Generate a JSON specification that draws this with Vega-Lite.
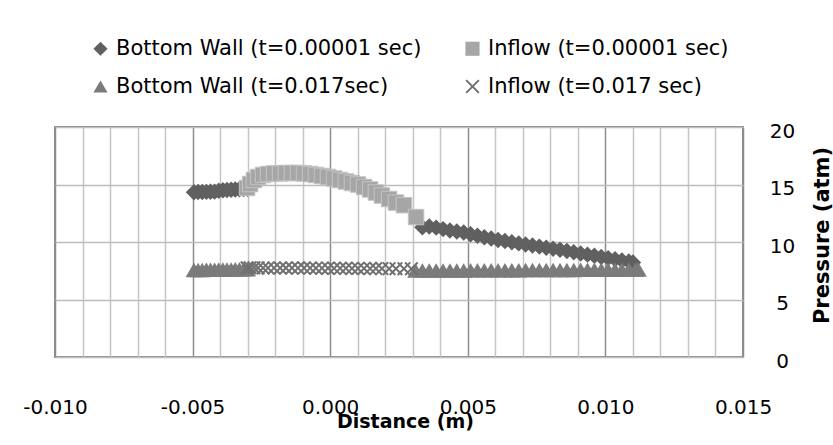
{
  "$schema": "https://vega.github.io/schema/vega-lite/v6.json",
  "width": 688,
  "height": 230,
  "autosize": {"type": "none"},
  "padding": {"left": 55, "top": 127, "right": 90, "bottom": 88},
  "background": "white",
  "config": {"view": {"stroke": "#8c8c8c", "strokeWidth": 2}, "font": "DejaVu Sans"},
  "data": {"values": [
    {"series": "Bottom Wall (t=0.00001 sec)", "x": -0.00495, "y": 14.33},
    {"series": "Bottom Wall (t=0.00001 sec)", "x": -0.0048, "y": 14.34},
    {"series": "Bottom Wall (t=0.00001 sec)", "x": -0.00465, "y": 14.35},
    {"series": "Bottom Wall (t=0.00001 sec)", "x": -0.0045, "y": 14.36},
    {"series": "Bottom Wall (t=0.00001 sec)", "x": -0.00435, "y": 14.37},
    {"series": "Bottom Wall (t=0.00001 sec)", "x": -0.0042, "y": 14.38},
    {"series": "Bottom Wall (t=0.00001 sec)", "x": -0.00405, "y": 14.45},
    {"series": "Bottom Wall (t=0.00001 sec)", "x": -0.0039, "y": 14.5},
    {"series": "Bottom Wall (t=0.00001 sec)", "x": -0.00375, "y": 14.52},
    {"series": "Bottom Wall (t=0.00001 sec)", "x": -0.0036, "y": 14.54},
    {"series": "Bottom Wall (t=0.00001 sec)", "x": -0.00345, "y": 14.56},
    {"series": "Bottom Wall (t=0.00001 sec)", "x": -0.0033, "y": 14.58},
    {"series": "Bottom Wall (t=0.00001 sec)", "x": -0.00315, "y": 14.6},
    {"series": "Bottom Wall (t=0.00001 sec)", "x": -0.003, "y": 14.62},
    {"series": "Bottom Wall (t=0.00001 sec)", "x": 0.00335, "y": 11.28},
    {"series": "Bottom Wall (t=0.00001 sec)", "x": 0.0036, "y": 11.35},
    {"series": "Bottom Wall (t=0.00001 sec)", "x": 0.00385, "y": 11.25},
    {"series": "Bottom Wall (t=0.00001 sec)", "x": 0.0041, "y": 11.12},
    {"series": "Bottom Wall (t=0.00001 sec)", "x": 0.00435, "y": 11.0},
    {"series": "Bottom Wall (t=0.00001 sec)", "x": 0.0046, "y": 10.92},
    {"series": "Bottom Wall (t=0.00001 sec)", "x": 0.00485, "y": 10.82},
    {"series": "Bottom Wall (t=0.00001 sec)", "x": 0.0051, "y": 10.68},
    {"series": "Bottom Wall (t=0.00001 sec)", "x": 0.00535, "y": 10.55},
    {"series": "Bottom Wall (t=0.00001 sec)", "x": 0.0056, "y": 10.42},
    {"series": "Bottom Wall (t=0.00001 sec)", "x": 0.00585, "y": 10.3},
    {"series": "Bottom Wall (t=0.00001 sec)", "x": 0.0061, "y": 10.18},
    {"series": "Bottom Wall (t=0.00001 sec)", "x": 0.00635, "y": 10.08},
    {"series": "Bottom Wall (t=0.00001 sec)", "x": 0.0066, "y": 9.98},
    {"series": "Bottom Wall (t=0.00001 sec)", "x": 0.00685, "y": 9.88},
    {"series": "Bottom Wall (t=0.00001 sec)", "x": 0.0071, "y": 9.78},
    {"series": "Bottom Wall (t=0.00001 sec)", "x": 0.00735, "y": 9.69},
    {"series": "Bottom Wall (t=0.00001 sec)", "x": 0.0076, "y": 9.6},
    {"series": "Bottom Wall (t=0.00001 sec)", "x": 0.00785, "y": 9.5},
    {"series": "Bottom Wall (t=0.00001 sec)", "x": 0.0081, "y": 9.42},
    {"series": "Bottom Wall (t=0.00001 sec)", "x": 0.00835, "y": 9.32},
    {"series": "Bottom Wall (t=0.00001 sec)", "x": 0.0086, "y": 9.22},
    {"series": "Bottom Wall (t=0.00001 sec)", "x": 0.00885, "y": 9.11},
    {"series": "Bottom Wall (t=0.00001 sec)", "x": 0.0091, "y": 9.0},
    {"series": "Bottom Wall (t=0.00001 sec)", "x": 0.00935, "y": 8.9},
    {"series": "Bottom Wall (t=0.00001 sec)", "x": 0.0096, "y": 8.8},
    {"series": "Bottom Wall (t=0.00001 sec)", "x": 0.00985, "y": 8.7},
    {"series": "Bottom Wall (t=0.00001 sec)", "x": 0.0101, "y": 8.6},
    {"series": "Bottom Wall (t=0.00001 sec)", "x": 0.01035, "y": 8.5},
    {"series": "Bottom Wall (t=0.00001 sec)", "x": 0.0106, "y": 8.4},
    {"series": "Bottom Wall (t=0.00001 sec)", "x": 0.01085, "y": 8.3},
    {"series": "Bottom Wall (t=0.00001 sec)", "x": 0.011, "y": 8.22},
    {"series": "Inflow (t=0.00001 sec)", "x": -0.00302, "y": 14.7},
    {"series": "Inflow (t=0.00001 sec)", "x": -0.00291, "y": 15.04},
    {"series": "Inflow (t=0.00001 sec)", "x": -0.00277, "y": 15.39},
    {"series": "Inflow (t=0.00001 sec)", "x": -0.00262, "y": 15.65},
    {"series": "Inflow (t=0.00001 sec)", "x": -0.00244, "y": 15.83},
    {"series": "Inflow (t=0.00001 sec)", "x": -0.00226, "y": 15.91},
    {"series": "Inflow (t=0.00001 sec)", "x": -0.00204, "y": 15.96},
    {"series": "Inflow (t=0.00001 sec)", "x": -0.00182, "y": 15.96},
    {"series": "Inflow (t=0.00001 sec)", "x": -0.00161, "y": 16.0},
    {"series": "Inflow (t=0.00001 sec)", "x": -0.00139, "y": 16.0},
    {"series": "Inflow (t=0.00001 sec)", "x": -0.00117, "y": 16.0},
    {"series": "Inflow (t=0.00001 sec)", "x": -0.00095, "y": 15.96},
    {"series": "Inflow (t=0.00001 sec)", "x": -0.00073, "y": 15.91},
    {"series": "Inflow (t=0.00001 sec)", "x": -0.00052, "y": 15.83},
    {"series": "Inflow (t=0.00001 sec)", "x": -0.0003, "y": 15.74},
    {"series": "Inflow (t=0.00001 sec)", "x": -0.00008, "y": 15.65},
    {"series": "Inflow (t=0.00001 sec)", "x": 0.00014, "y": 15.52},
    {"series": "Inflow (t=0.00001 sec)", "x": 0.00036, "y": 15.39},
    {"series": "Inflow (t=0.00001 sec)", "x": 0.00057, "y": 15.26},
    {"series": "Inflow (t=0.00001 sec)", "x": 0.00079, "y": 15.13},
    {"series": "Inflow (t=0.00001 sec)", "x": 0.00101, "y": 15.0},
    {"series": "Inflow (t=0.00001 sec)", "x": 0.00123, "y": 14.78},
    {"series": "Inflow (t=0.00001 sec)", "x": 0.00145, "y": 14.57},
    {"series": "Inflow (t=0.00001 sec)", "x": 0.00166, "y": 14.3},
    {"series": "Inflow (t=0.00001 sec)", "x": 0.00188, "y": 14.04},
    {"series": "Inflow (t=0.00001 sec)", "x": 0.00214, "y": 13.74},
    {"series": "Inflow (t=0.00001 sec)", "x": 0.00239, "y": 13.43},
    {"series": "Inflow (t=0.00001 sec)", "x": 0.00268, "y": 13.2},
    {"series": "Inflow (t=0.00001 sec)", "x": 0.00312, "y": 12.17},
    {"series": "Bottom Wall (t=0.017sec)", "x": -0.00495, "y": 7.56},
    {"series": "Bottom Wall (t=0.017sec)", "x": -0.0048, "y": 7.57},
    {"series": "Bottom Wall (t=0.017sec)", "x": -0.00465, "y": 7.57},
    {"series": "Bottom Wall (t=0.017sec)", "x": -0.0045, "y": 7.58},
    {"series": "Bottom Wall (t=0.017sec)", "x": -0.00435, "y": 7.58},
    {"series": "Bottom Wall (t=0.017sec)", "x": -0.0042, "y": 7.59},
    {"series": "Bottom Wall (t=0.017sec)", "x": -0.00405, "y": 7.6},
    {"series": "Bottom Wall (t=0.017sec)", "x": -0.0039, "y": 7.6},
    {"series": "Bottom Wall (t=0.017sec)", "x": -0.00375, "y": 7.61},
    {"series": "Bottom Wall (t=0.017sec)", "x": -0.0036, "y": 7.61},
    {"series": "Bottom Wall (t=0.017sec)", "x": -0.00345, "y": 7.62},
    {"series": "Bottom Wall (t=0.017sec)", "x": -0.0033, "y": 7.62},
    {"series": "Bottom Wall (t=0.017sec)", "x": -0.00315, "y": 7.63},
    {"series": "Bottom Wall (t=0.017sec)", "x": -0.003, "y": 7.63},
    {"series": "Bottom Wall (t=0.017sec)", "x": 0.0031, "y": 7.52},
    {"series": "Bottom Wall (t=0.017sec)", "x": 0.00335, "y": 7.52},
    {"series": "Bottom Wall (t=0.017sec)", "x": 0.0036, "y": 7.52},
    {"series": "Bottom Wall (t=0.017sec)", "x": 0.00385, "y": 7.52},
    {"series": "Bottom Wall (t=0.017sec)", "x": 0.0041, "y": 7.53},
    {"series": "Bottom Wall (t=0.017sec)", "x": 0.00435, "y": 7.53},
    {"series": "Bottom Wall (t=0.017sec)", "x": 0.0046, "y": 7.53},
    {"series": "Bottom Wall (t=0.017sec)", "x": 0.00485, "y": 7.53},
    {"series": "Bottom Wall (t=0.017sec)", "x": 0.0051, "y": 7.54},
    {"series": "Bottom Wall (t=0.017sec)", "x": 0.00535, "y": 7.54},
    {"series": "Bottom Wall (t=0.017sec)", "x": 0.0056, "y": 7.54},
    {"series": "Bottom Wall (t=0.017sec)", "x": 0.00585, "y": 7.54},
    {"series": "Bottom Wall (t=0.017sec)", "x": 0.0061, "y": 7.55},
    {"series": "Bottom Wall (t=0.017sec)", "x": 0.00635, "y": 7.55},
    {"series": "Bottom Wall (t=0.017sec)", "x": 0.0066, "y": 7.55},
    {"series": "Bottom Wall (t=0.017sec)", "x": 0.00685, "y": 7.55},
    {"series": "Bottom Wall (t=0.017sec)", "x": 0.0071, "y": 7.56},
    {"series": "Bottom Wall (t=0.017sec)", "x": 0.00735, "y": 7.56},
    {"series": "Bottom Wall (t=0.017sec)", "x": 0.0076, "y": 7.56},
    {"series": "Bottom Wall (t=0.017sec)", "x": 0.00785, "y": 7.56},
    {"series": "Bottom Wall (t=0.017sec)", "x": 0.0081, "y": 7.57},
    {"series": "Bottom Wall (t=0.017sec)", "x": 0.00835, "y": 7.57},
    {"series": "Bottom Wall (t=0.017sec)", "x": 0.0086, "y": 7.57},
    {"series": "Bottom Wall (t=0.017sec)", "x": 0.00885, "y": 7.57},
    {"series": "Bottom Wall (t=0.017sec)", "x": 0.0091, "y": 7.58},
    {"series": "Bottom Wall (t=0.017sec)", "x": 0.00935, "y": 7.58},
    {"series": "Bottom Wall (t=0.017sec)", "x": 0.0096, "y": 7.58},
    {"series": "Bottom Wall (t=0.017sec)", "x": 0.00985, "y": 7.58},
    {"series": "Bottom Wall (t=0.017sec)", "x": 0.0101, "y": 7.59},
    {"series": "Bottom Wall (t=0.017sec)", "x": 0.01035, "y": 7.59},
    {"series": "Bottom Wall (t=0.017sec)", "x": 0.0106, "y": 7.59},
    {"series": "Bottom Wall (t=0.017sec)", "x": 0.01085, "y": 7.6},
    {"series": "Bottom Wall (t=0.017sec)", "x": 0.0111, "y": 7.6},
    {"series": "Bottom Wall (t=0.017sec)", "x": 0.0112, "y": 7.6},
    {"series": "Inflow (t=0.017 sec)", "x": -0.00302, "y": 7.76},
    {"series": "Inflow (t=0.017 sec)", "x": -0.00291, "y": 7.76},
    {"series": "Inflow (t=0.017 sec)", "x": -0.00277, "y": 7.76},
    {"series": "Inflow (t=0.017 sec)", "x": -0.00262, "y": 7.75},
    {"series": "Inflow (t=0.017 sec)", "x": -0.00244, "y": 7.75},
    {"series": "Inflow (t=0.017 sec)", "x": -0.00226, "y": 7.75},
    {"series": "Inflow (t=0.017 sec)", "x": -0.00204, "y": 7.75},
    {"series": "Inflow (t=0.017 sec)", "x": -0.00182, "y": 7.74},
    {"series": "Inflow (t=0.017 sec)", "x": -0.00161, "y": 7.74},
    {"series": "Inflow (t=0.017 sec)", "x": -0.00139, "y": 7.74},
    {"series": "Inflow (t=0.017 sec)", "x": -0.00117, "y": 7.73},
    {"series": "Inflow (t=0.017 sec)", "x": -0.00095, "y": 7.73},
    {"series": "Inflow (t=0.017 sec)", "x": -0.00073, "y": 7.73},
    {"series": "Inflow (t=0.017 sec)", "x": -0.00052, "y": 7.72},
    {"series": "Inflow (t=0.017 sec)", "x": -0.0003, "y": 7.72},
    {"series": "Inflow (t=0.017 sec)", "x": -0.00008, "y": 7.72},
    {"series": "Inflow (t=0.017 sec)", "x": 0.00014, "y": 7.71},
    {"series": "Inflow (t=0.017 sec)", "x": 0.00036, "y": 7.71},
    {"series": "Inflow (t=0.017 sec)", "x": 0.00057, "y": 7.71},
    {"series": "Inflow (t=0.017 sec)", "x": 0.00079, "y": 7.7},
    {"series": "Inflow (t=0.017 sec)", "x": 0.00101, "y": 7.7},
    {"series": "Inflow (t=0.017 sec)", "x": 0.00123, "y": 7.7},
    {"series": "Inflow (t=0.017 sec)", "x": 0.00145, "y": 7.69},
    {"series": "Inflow (t=0.017 sec)", "x": 0.00166, "y": 7.69},
    {"series": "Inflow (t=0.017 sec)", "x": 0.00188, "y": 7.69},
    {"series": "Inflow (t=0.017 sec)", "x": 0.00214, "y": 7.68},
    {"series": "Inflow (t=0.017 sec)", "x": 0.00239, "y": 7.68},
    {"series": "Inflow (t=0.017 sec)", "x": 0.00268, "y": 7.68},
    {"series": "Inflow (t=0.017 sec)", "x": 0.00295, "y": 7.67}
  ]},
  "encoding": {
    "x": {
      "field": "x", "type": "quantitative",
      "scale": {"domain": [-0.01, 0.015], "nice": false, "zero": false},
      "axis": {
        "values": [-0.01, -0.009, -0.008, -0.007, -0.006, -0.005, -0.004, -0.003, -0.002, -0.001, 0, 0.001, 0.002, 0.003, 0.004, 0.005, 0.006, 0.007, 0.008, 0.009, 0.01, 0.011, 0.012, 0.013, 0.014, 0.015],
        "labelExpr": "round(datum.value*1000) % 5 == 0 ? replace(format(datum.value, '.3f'), '\u2212', '-') : ''",
        "grid": true,
        "gridColor": {"condition": {"test": "round(datum.value*1000) % 5 == 0", "value": "#8c8c8c"}, "value": "#c4c4c4"},
        "gridWidth": 1.5,
        "ticks": false, "tickSize": 0, "domain": false,
        "labelPadding": 50, "labelBaseline": "middle", "labelFontSize": 20, "labelColor": "#000000",
        "labelOverlap": false, "labelFlush": false,
        "title": "Distance (m)", "titleFontSize": 19, "titleFontWeight": "bold", "titleColor": "#000000",
        "titleX": 350, "titleY": 64, "titleBaseline": "middle", "titleAlign": "center"
      }
    },
    "y": {
      "field": "y", "type": "quantitative",
      "scale": {"domain": [0, 20], "nice": false},
      "axis": {
        "orient": "right", "values": [0, 5, 10, 15, 20],
        "grid": true, "gridColor": "#bdbdbd", "gridWidth": 1.5,
        "ticks": false, "tickSize": 0, "domain": false,
        "labelAlign": "center", "labelPadding": 39, "labelBaseline": "middle", "labelOffset": 4,
        "labelFontSize": 20, "labelColor": "#000000",
        "title": "Pressure (atm)", "titleFontSize": 21, "titleFontWeight": "bold", "titleColor": "#000000",
        "titleAngle": 270, "titleX": 79, "titleY": 108, "titleBaseline": "middle", "titleAlign": "center"
      }
    },
    "shape": {
      "field": "series", "type": "nominal",
      "scale": {
        "domain": ["Bottom Wall (t=0.00001 sec)", "Inflow (t=0.00001 sec)", "Bottom Wall (t=0.017sec)", "Inflow (t=0.017 sec)"],
        "range": ["diamond", "square", "triangle-up", "M-1,-0.8L0.8,1L1,0.8L-0.8,-1Z M1,-0.8L0.8,-1L-1,0.8L-0.8,1Z"]
      },
      "legend": {
        "orient": "none", "legendX": 35, "legendY": -89, "columns": 2, "direction": "horizontal", "title": null,
        "labelFontSize": 21, "labelColor": "#000000", "labelLimit": 500,
        "symbolSize": 200, "rowPadding": 16, "columnPadding": 40, "labelOffset": 5,
        "padding": 0, "symbolStrokeWidth": 0
      }
    },
    "color": {
      "field": "series", "type": "nominal",
      "scale": {
        "domain": ["Bottom Wall (t=0.00001 sec)", "Inflow (t=0.00001 sec)", "Bottom Wall (t=0.017sec)", "Inflow (t=0.017 sec)"],
        "range": ["#606060", "#a6a6a6", "#7b7b7b", "#707070"]
      }
    }
  },
  "layer": [
    {"transform": [{"filter": "datum.series == 'Bottom Wall (t=0.00001 sec)'"}],
     "mark": {"type": "point", "filled": true, "opacity": 1, "size": 270}},
    {"transform": [{"filter": "datum.series == 'Inflow (t=0.00001 sec)'"}],
     "mark": {"type": "point", "filled": true, "opacity": 1, "size": 240, "stroke": "#c4c4c4", "strokeWidth": 1}},
    {"transform": [{"filter": "datum.series == 'Bottom Wall (t=0.017sec)'"}],
     "mark": {"type": "point", "filled": true, "opacity": 1, "size": 280}},
    {"transform": [{"filter": "datum.series == 'Inflow (t=0.017 sec)'"}],
     "mark": {"type": "point", "filled": true, "opacity": 1, "size": 196}}
  ]
}
